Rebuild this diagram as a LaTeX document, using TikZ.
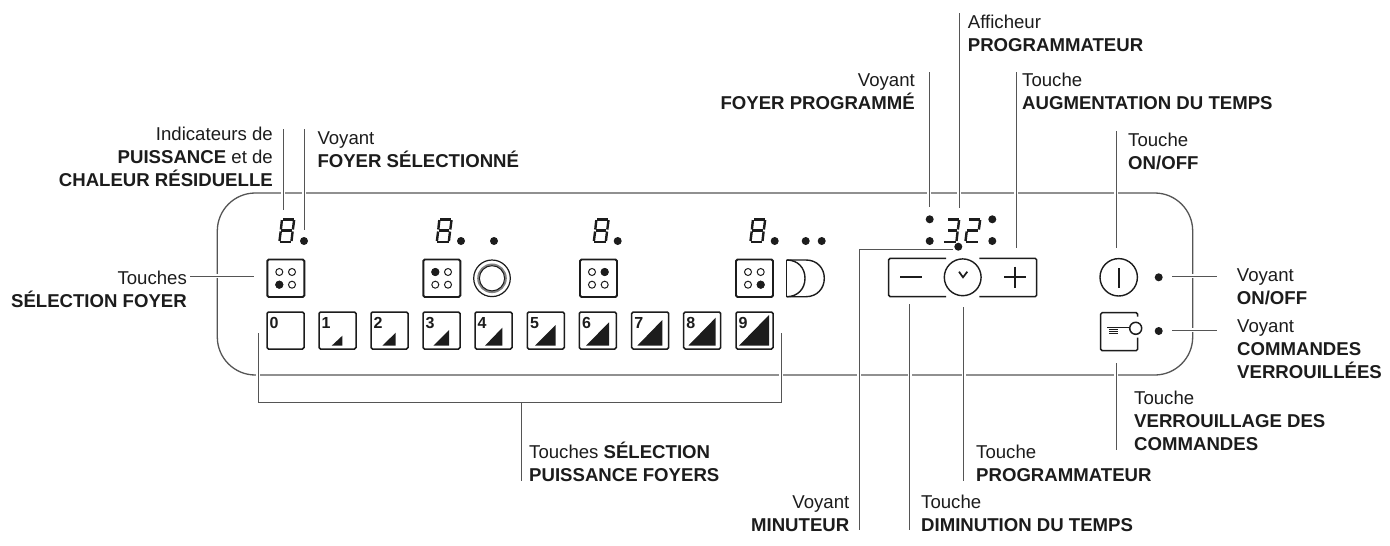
\documentclass[tikz,border=0pt]{standalone}
\usepackage{fontspec}
\setmainfont{Liberation Sans}
\definecolor{ink}{HTML}{1C1C1C}
\definecolor{wire}{HTML}{555555}
\tikzset{
  x=1pt,y=-1pt,
  lab/.style={inner sep=0pt,text=ink,font=\fontsize{18.6}{23}\selectfont},
  labl/.style={lab,align=left,anchor=base west},
  labr/.style={lab,align=right,anchor=base east},
  wireline/.style={draw=wire,line width=1pt},
  halo/.style={draw=white,line width=4pt},
  panel/.style={draw=wire,line width=1.3pt,rounded corners=38pt},
  keybox/.style={draw=ink,line width=1.5pt,rounded corners=1.5pt},
  selbox/.style={draw=ink,line width=1.9pt,rounded corners=1.5pt},
  ledot/.style={circle,fill=ink,inner sep=0pt,minimum size=8pt},
  ring/.style={draw=ink,line width=1.4pt},
  seg/.style={draw=ink,line width=2.4pt,line cap=butt},
  keynum/.style={inner sep=0pt,anchor=base west,text=ink,font=\fontsize{16}{16}\selectfont\bfseries},
}
\newcommand{\leaderline}[3][]{\draw[halo,#1] (#2) -- (#3);\draw[wireline,#1] (#2) -- (#3);}
\newcommand{\digiteight}[1]{%
  \begin{scope}[shift={(#1,218.5)}]
    \draw[seg] (4.6,1)--(15.6,1);
    \draw[seg] (3,12)--(13.6,12);
    \draw[seg] (1.6,23.2)--(12.8,23.2);
    \draw[seg] (3.6,1.6)--(2.6,11);
    \draw[seg] (2.4,13)--(1.2,22.5);
    \draw[seg] (15.8,1.6)--(14.6,11);
    \draw[seg] (14.3,13)--(13.2,22.5);
  \end{scope}}
\newcommand{\selkey}[3]{%
  \begin{scope}[shift={(#1,259.5)}]
    \draw[selbox] (0,0) rectangle (37,37.5);
    \foreach \px/\py/\pn in {12/12.5/a,24.7/12.5/b,12/25.2/c,24.7/25.2/d}{
      \draw[ink,line width=1pt] (\px,\py) circle[radius=3.5];
    }
    \fill[ink] (#2,#3) circle[radius=4];
  \end{scope}}
\newcommand{\powerkey}[6]{%
  \begin{scope}[shift={(#2,312)}]
    \draw[keybox] (0,0) rectangle (37,37);
    \node[keynum] (n#1) at (2.5,16.5) {#1};
    \fill[ink] (#3,33.7) -- (#4,33.7) -- (#4,#5) -- cycle;
  \end{scope}}
\begin{document}
\begin{tikzpicture}
\useasboundingbox[fill=white] (0,0) rectangle (1390,546);
% panel
\draw[panel] (217.3,193) rectangle (1192.7,375);
% leader end points
\foreach \nm/\px/\py in {
 ia/283/129, ib/283/210, fa/304/129, fb/304/230,
 ta/190/276, tb/254/276,
 ba/258/333, bb/258/402, bc/781/402, bd/781/333, be/521/402, bf/521/481,
 pa/929/72, pb/929/207, aa/959/13, ab/959/208, ua/1016/72, ub/1016/248,
 oa/1116/131, ob/1116/248,
 va/1172/276, vb/1217/276, ca/1172/330, cb/1217/330,
 ka/1116/363, kb/1116/450,
 ma/953/249, mb/859/249, mc/859/530,
 da/909.5/304, db/909.5/530, ga/963.5/307, gb/963.5/481}{
  \coordinate (\nm) at (\px,\py);
}
\leaderline{ia}{ib}
\leaderline{fa}{fb}
\leaderline{ta}{tb}
\leaderline{pa}{pb}
\leaderline{aa}{ab}
\leaderline{ua}{ub}
\leaderline{oa}{ob}
\leaderline{va}{vb}
\leaderline{ca}{cb}
\leaderline{ka}{kb}
\leaderline{da}{db}
\leaderline{ga}{gb}
\draw[halo] (ba)--(bb);\draw[halo] (bd)--(bc);\draw[halo] (be)--(bf);\draw[halo] (mb)--(mc);
\draw[wireline] (ba)--(bb)--(bc)--(bd);
\draw[wireline] (be)--(bf);
\draw[wireline] (ma)--(mb)--(mc);
% digits
\digiteight{278.3}
\digiteight{435.7}
\digiteight{592.7}
\digiteight{749.3}
% programmer digits 3 2
\begin{scope}[shift={(943.3,218.5)}]
  \draw[seg] (4.6,1)--(15.6,1);
  \draw[seg] (5,12)--(13.6,12);
  \draw[seg] (0.6,23.2)--(12.8,23.2);
  \draw[seg] (15.8,1.6)--(14.6,11);
  \draw[seg] (14.3,13)--(13.2,22.5);
\end{scope}
\begin{scope}[shift={(964.3,218.5)}]
  \draw[seg] (4.6,1)--(15.6,1);
  \draw[seg] (3,12)--(13.6,12);
  \draw[seg] (1.6,23.2)--(13.8,23.2);
  \draw[seg] (15.8,1.6)--(14.6,11);
  \draw[seg] (2.4,13)--(1.2,22.5);
\end{scope}
% indicator dots
\foreach \nm/\px/\py in {d1/304/241,d2/461/241,d3/494/241,d4/617.7/241,d5/774.7/241,d6/805.7/241,d7/821.7/241,
 d8/929.7/219.3,d9/929.7/241,d10/992.3/219.3,d11/992.3/241,d12/958.3/246.7,d13/1158.7/277.3,d14/1158.7/331}{
  \node[ledot] (\nm) at (\px,\py) {};
}
% hob selection keys
\selkey{267.3}{12}{25.2}
\selkey{423.3}{12}{12.5}
\selkey{580}{24.7}{12.5}
\selkey{736}{24.7}{25.2}
% concentric ring symbol
\draw[ink,line width=1.2pt] (492,278.3) circle[radius=18.3];
\draw[ink!55,line width=2pt] (492,278.3) circle[radius=13.8];
\draw[ink,line width=1pt] (492,278.3) circle[radius=12.6];
% double half ring symbol
\draw[ink,line width=1.4pt] (786.7,260) -- (786.7,296.7);
\draw[ink,line width=1.4pt] (786.7,260) .. controls (798,260) and (805,268) .. (805,278.3) .. controls (805,288.5) and (798,296.7) .. (786.7,296.7);
\draw[ink,line width=1.4pt] (786.7,260) -- (806,260) .. controls (817,260) and (824.3,268) .. (824.3,278.3) .. controls (824.3,288.5) and (817,296.7) .. (806,296.7) -- (786.7,296.7);
% power keys
\powerkey{0}{267}{0}{0}{33.7}{}
\powerkey{1}{319}{12.7}{23.4}{23.7}{}
\powerkey{2}{371}{11.3}{24.7}{20.7}{}
\powerkey{3}{423}{10.3}{26}{18}{}
\powerkey{4}{475}{10}{27.3}{15.7}{}
\powerkey{5}{527.3}{7.7}{28.4}{13}{}
\powerkey{6}{579.3}{6.7}{29.7}{10.3}{}
\powerkey{7}{631.7}{5.6}{30.6}{8}{}
\powerkey{8}{683.7}{4.6}{32}{5.7}{}
\powerkey{9}{736}{3}{33}{3}{}
% timer keys
\draw[keybox] (946,258.3) -- (888.7,258.3) -- (888.7,296.7) -- (946,296.7);
\draw[keybox] (979.3,258.3) -- (1036.7,258.3) -- (1036.7,296.7) -- (979.3,296.7);
\draw[ring] (962.7,277.3) circle[radius=18.4];
\draw[ink,line width=1.8pt] (900,277.3) -- (921.7,277.3);
\draw[ink,line width=1.8pt] (1004.3,277.3) -- (1025.7,277.3);
\draw[ink,line width=1.8pt] (1015,266.6) -- (1015,288);
\draw[ink,line width=1.7pt] (959,271.7) -- (963,277.3) -- (967.3,271.7);
% on/off key
\draw[ring] (1118.7,277.3) circle[radius=18.7];
\draw[ink,line width=1.6pt] (1118.7,268) -- (1118.7,288.3);
% lock key
\draw[keybox] (1137.7,316.5) -- (1137.7,312.7) -- (1100.7,312.7) -- (1100.7,350.7) -- (1137.7,350.7) -- (1137.7,337.7);
\draw[ink,line width=1.5pt] (1135.7,328.3) circle[radius=6];
\draw[ink,line width=1.5pt] (1107.3,327.3) -- (1129.7,327.3);
\draw[ink,line width=.8pt] (1109.3,329.5) -- (1118.3,329.5);
\draw[ink,line width=.8pt] (1109.3,331.7) -- (1118.3,331.7);
\draw[ink,line width=.8pt] (1109.3,333.7) -- (1118.3,333.7);
% labels (anchor = baseline of the last line)
\node[labr] (lind) at (273,186) {Indicateurs de\\\textbf{PUISSANCE} et de\\\textbf{CHALEUR RÉSIDUELLE}};
\node[labl] (lfoy) at (317.3,167) {Voyant\\\textbf{FOYER SÉLECTIONNÉ}};
\node[labr] (ltou) at (187,307) {Touches\\\textbf{SÉLECTION FOYER}};
\node[labl] (laff) at (967.7,51) {Afficheur\\\textbf{PROGRAMMATEUR}};
\node[labr] (lpro) at (915,109.5) {Voyant\\\textbf{FOYER PROGRAMMÉ}};
\node[labl] (laug) at (1022,109.5) {Touche\\\textbf{AUGMENTATION DU TEMPS}};
\node[labl] (lonf) at (1128,169) {Touche\\\textbf{ON/OFF}};
\node[labl] (lvon) at (1236.7,304.5) {Voyant\\\textbf{ON/OFF}};
\node[labl] (lcom) at (1237,378.5) {Voyant\\\textbf{COMMANDES}\\\textbf{VERROUILLÉES}};
\node[labl] (lver) at (1134,450) {Touche\\\textbf{VERROUILLAGE DES}\\\textbf{COMMANDES}};
\node[labl] (lsel) at (529,481) {Touches \textbf{SÉLECTION}\\\textbf{PUISSANCE FOYERS}};
\node[labl] (lprg) at (976,481) {Touche\\\textbf{PROGRAMMATEUR}};
\node[labr] (lmin) at (849.5,531) {Voyant\\\textbf{MINUTEUR}};
\node[labl] (ldim) at (921,531) {Touche\\\textbf{DIMINUTION DU TEMPS}};
\end{tikzpicture}
\end{document}
